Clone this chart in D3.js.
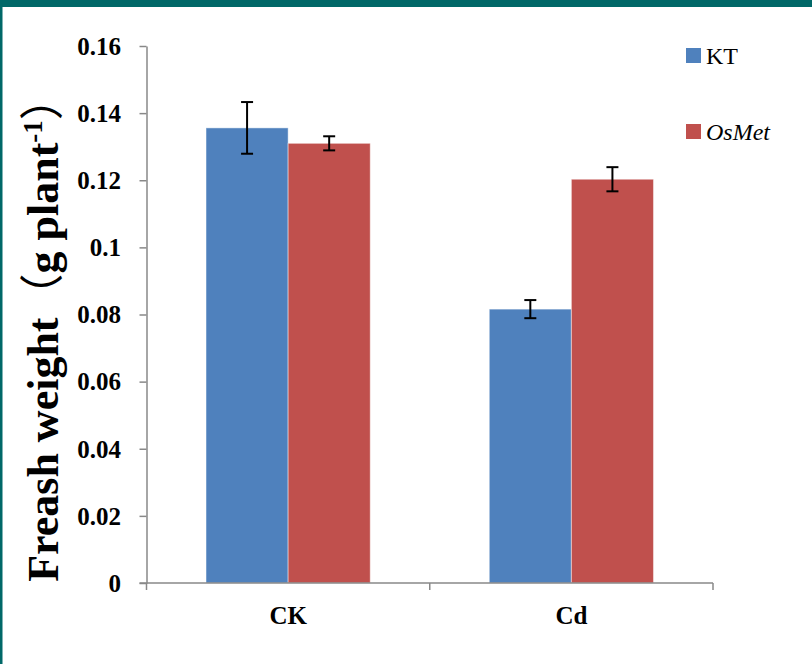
<!DOCTYPE html>
<html>
<head>
<meta charset="utf-8">
<script src="https://cdn.jsdelivr.net/npm/d3@7"></script>
<style>
html,body{margin:0;padding:0;background:#fff;}
svg{display:block;}
</style>
</head>
<body>
<svg id="chart" width="812" height="664"></svg>
<script>
const categories = ["CK", "Cd"];
const seriesNames = ["KT", "OsMet"];
const ktValues = [0.1356, 0.0816];
const ktErrors = [0.0077, 0.0027];
const osmetValues = [0.1310, 0.1203];
const osmetErrors = [0.0021, 0.0036];
const yTickValues = [0, 0.02, 0.04, 0.06, 0.08, 0.1, 0.12, 0.14, 0.16];
const yTickLabels = ["0", "0.02", "0.04", "0.06", "0.08", "0.1", "0.12", "0.14", "0.16"];
const colors = ["#4F81BD", "#C0504D"];

(function() {
const svg = d3.select("#chart");
const W = 812, H = 664;
svg.append("rect").attr("x",0).attr("y",0).attr("width",W).attr("height",H).attr("fill","#fff");
// frame
svg.append("rect").attr("x",0).attr("y",0).attr("width",W).attr("height",7).attr("fill","#016868");
svg.append("rect").attr("x",0).attr("y",0).attr("width",2.5).attr("height",H).attr("fill","#016868");

const pLeft = 146.5, pRight = 713, pTop = 46, pBottom = 583;
const y = d3.scaleLinear().domain([0, 0.16]).range([pBottom, pTop]);
const x0 = d3.scaleBand().domain(categories).range([pLeft, pRight]).padding(0);
const x1 = d3.scaleBand().domain(seriesNames).range([0, x0.bandwidth()]).paddingInner(0).paddingOuter(0.725);

const data = categories.map((c, i) => ({
  cat: c,
  vals: [
    {s: "KT", v: ktValues[i], e: ktErrors[i]},
    {s: "OsMet", v: osmetValues[i], e: osmetErrors[i]}
  ]
}));

const serif = "'Liberation Serif','Times New Roman',serif";

// bars
const g = svg.append("g");
const groups = g.selectAll("g.grp").data(data).join("g")
  .attr("transform", d => `translate(${x0(d.cat)},0)`);
groups.selectAll("rect").data(d => d.vals).join("rect")
  .attr("x", d => x1(d.s))
  .attr("width", x1.bandwidth())
  .attr("y", d => y(d.v))
  .attr("height", d => y(0) - y(d.v))
  .attr("fill", (d, i) => colors[i])
  .attr("stroke", "rgba(255,255,255,0.45)")
  .attr("stroke-width", 1);

// error bars
groups.each(function(d) {
  const gg = d3.select(this);
  d.vals.forEach(v => {
    const cx = x1(v.s) + x1.bandwidth() / 2;
    const yt = y(v.v + v.e), yb = y(v.v - v.e);
    gg.append("line").attr("x1", cx).attr("x2", cx).attr("y1", yt).attr("y2", yb)
      .attr("stroke", "#000").attr("stroke-width", 2);
    [yt, yb].forEach(yy => {
      gg.append("line").attr("x1", cx - 6).attr("x2", cx + 6).attr("y1", yy).attr("y2", yy)
        .attr("stroke", "#000").attr("stroke-width", 2);
    });
  });
});

// y axis
const yAxis = d3.axisLeft(y).tickValues(yTickValues)
  .tickFormat((d, i) => yTickLabels[i]).tickSize(7).tickSizeOuter(0).tickPadding(18.5);
const ya = svg.append("g").attr("transform", `translate(${pLeft},0)`).call(yAxis);
ya.selectAll("path, line").attr("stroke", "#888").attr("stroke-width", 1.5);
ya.selectAll("text").attr("font-family", serif).attr("font-weight", "bold")
  .attr("font-size", 25).attr("fill", "#000").attr("dy", "0.33em");

// x axis
const xa = svg.append("g").attr("transform", `translate(0,${pBottom})`);
xa.append("line").attr("x1", pLeft - 7).attr("x2", pRight).attr("y1", 0).attr("y2", 0)
  .attr("stroke", "#888").attr("stroke-width", 1.5);
const bounds = categories.map(c => x0(c)).concat([x0(categories[categories.length-1]) + x0.bandwidth()]);
xa.selectAll("line.tk").data(bounds).join("line").attr("class","tk")
  .attr("x1", d => d).attr("x2", d => d).attr("y1", 0).attr("y2", 7)
  .attr("stroke", "#888").attr("stroke-width", 1.5);
xa.selectAll("text").data(categories).join("text")
  .attr("x", d => x0(d) + x0.bandwidth() / 2)
  .attr("y", 41)
  .attr("text-anchor", "middle")
  .attr("font-family", serif).attr("font-weight", "bold").attr("font-size", 25)
  .text(d => d);

// y title
const yt = svg.append("text")
  .attr("transform", `translate(58,329) rotate(-90)`)
  .attr("text-anchor", "middle")
  .attr("font-family", serif).attr("font-weight", "bold").attr("font-size", 44).attr("fill", "#000");
yt.append("tspan").text("Freash weight");
yt.append("tspan").attr("font-family", "'Noto Sans CJK SC',sans-serif").attr("font-weight","normal").text("（");
yt.append("tspan").text("g plant");
yt.append("tspan").attr("font-size", 27).attr("dy", -16).text("-1");
yt.append("tspan").attr("dy", 16).attr("font-family", "'Noto Sans CJK SC',sans-serif").attr("font-weight","normal").text("）");

// legend
const legend = svg.append("g");
const legY = [48, 124];
seriesNames.forEach((s, i) => {
  legend.append("rect").attr("x", 686).attr("y", legY[i]).attr("width", 15).attr("height", 15).attr("fill", colors[i]);
  legend.append("text").attr("x", 706).attr("y", legY[i] + 15.5)
    .attr("font-family", serif).attr("font-size", 24)
    .attr("font-style", s === "OsMet" ? "italic" : "normal")
    .text(s);
});
})();
</script>
</body>
</html>
